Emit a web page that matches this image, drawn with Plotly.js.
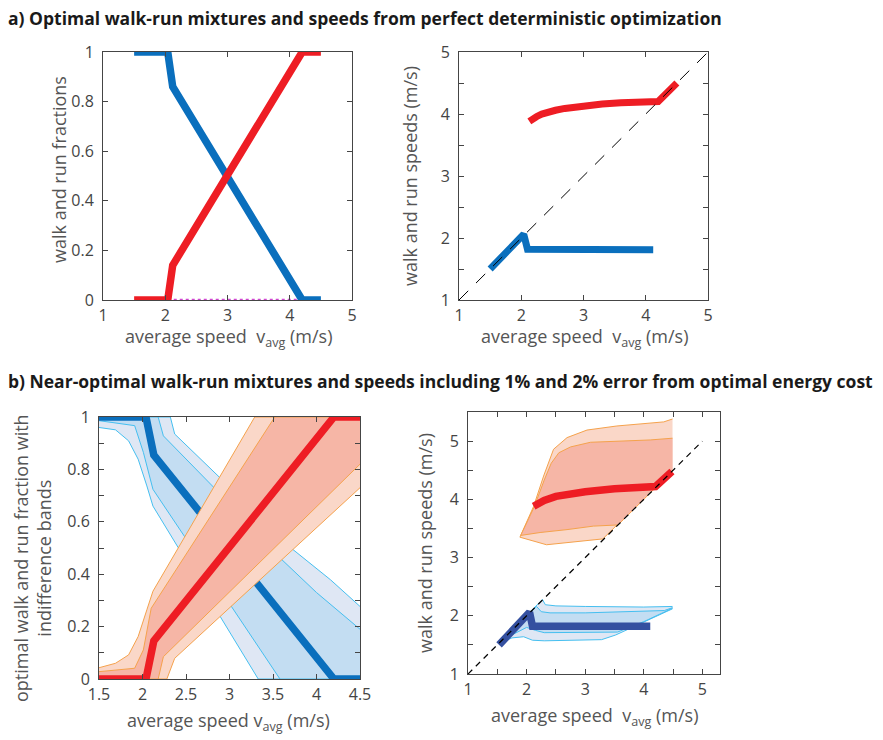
<!DOCTYPE html>
<html>
<head>
<meta charset="utf-8">
<script src="https://cdn.plot.ly/plotly-3.0.1.min.js"></script>
<style>html,body{margin:0;padding:0;background:#fff;}#chart{width:883px;height:740px;}</style>
</head>
<body>
<div id="chart"></div>
<script>
// ---------- Panel a (left): walk / run fractions ----------
const aFracV = [1.5, 2.04, 2.12, 4.2, 4.5];
const aWalkFrac = [1, 1, 0.86, 0, 0];
const aRunFrac = [0, 0, 0.14, 1, 1];
const aZeroV = [2.04, 4.2];
const aZeroY = [0, 0];
// ---------- Panel a (right): walk / run speeds ----------
const aWalkSpdV = [1.5, 2.04, 2.1, 4.12];
const aWalkSpd = [1.5, 2.06, 1.82, 1.81];
const aRunSpdV = [2.13, 2.18, 2.25, 2.33, 2.42, 2.55, 2.7, 3.0, 3.3, 3.6, 3.9, 4.2, 4.5];
const aRunSpd = [3.88, 3.92, 3.96, 4.0, 4.03, 4.06, 4.09, 4.13, 4.16, 4.18, 4.19, 4.2, 4.5];
const diagV = [1, 5];

// ---------- Panel b (left): fractions with indifference bands ----------
const bFracV = [1.5, 2.04, 2.13, 4.2, 4.5];
const bWalkFrac = [1, 1, 0.855, 0, 0];
const bRunFrac = [0, 0, 0.145, 1, 1];
// walk fraction bands (2% outer, 1% inner)
const bWalk2HiV = [1.5, 2.32, 2.37, 2.91, 3.73, 4.16, 4.5];
const bWalk2Hi  = [1, 1, 0.935, 0.762, 0.494, 0.379, 0.277];
const bWalk2LoV = [1.5, 1.69, 1.84, 1.95, 2.05, 2.12, 3.33, 4.5];
const bWalk2Lo  = [0.96, 0.951, 0.909, 0.839, 0.737, 0.66, 0, 0];
const bWalk1HiV = [1.5, 2.18, 2.24, 3.0, 3.6, 4.0, 4.5];
const bWalk1Hi  = [1, 1, 0.928, 0.67, 0.456, 0.33, 0.19];
const bWalk1LoV = [1.5, 1.91, 2.01, 2.12, 3.58, 4.5];
const bWalk1Lo  = [0.986, 0.967, 0.865, 0.724, 0, 0];
// run fraction bands
const bRun2HiV = [1.5, 1.69, 1.84, 1.95, 2.05, 2.12, 3.29, 4.5];
const bRun2Hi  = [0.043, 0.06, 0.092, 0.162, 0.264, 0.335, 1, 1];
const bRun2LoV = [1.5, 2.28, 2.37, 4.5];
const bRun2Lo  = [0, 0, 0.079, 0.73];
const bRun1HiV = [1.5, 1.91, 2.01, 2.1, 3.52, 4.5];
const bRun1Hi  = [0.028, 0.041, 0.111, 0.27, 1, 1];
const bRun1LoV = [1.5, 2.18, 2.24, 4.5];
const bRun1Lo  = [0, 0, 0.085, 0.82];

// ---------- Panel b (right): speeds with indifference bands ----------
const bWalkSpdV = [1.53, 2.05, 2.1, 4.11];
const bWalkSpd = [1.5, 2.06, 1.82, 1.82];
const bRunSpdV = [2.12, 2.3, 2.5, 2.75, 3.0, 3.5, 4.0, 4.2, 4.48];
const bRunSpd = [3.88, 3.98, 4.05, 4.1, 4.13, 4.18, 4.2, 4.22, 4.48];
// run speed bands
const bRunS2HiV = [1.886, 2.12, 2.29, 2.46, 2.69, 3.03, 3.54, 4.11, 4.34, 4.49];
const bRunS2Hi  = [3.35, 3.88, 4.4, 4.86, 5.06, 5.19, 5.26, 5.31, 5.33, 5.38];
const bRunS2LoV = [1.886, 2.34, 3.3, 4.49];
const bRunS2Lo  = [3.35, 3.22, 3.32, 4.49];
const bRunS1HiV = [1.9, 2.13, 2.3, 2.42, 2.55, 2.75, 3.09, 3.54, 4.11, 4.49];
const bRunS1Hi  = [3.38, 3.87, 4.33, 4.62, 4.8, 4.9, 4.98, 5.0, 5.02, 5.05];
const bRunS1LoV = [1.9, 2.23, 2.69, 3.14, 3.56, 4.49];
const bRunS1Lo  = [3.38, 3.43, 3.48, 3.54, 3.56, 4.49];
// walk speed bands
const bWalkS2HiV = [1.6, 2.0, 2.27, 2.32, 2.5, 3.0, 3.5, 4.0, 4.49];
const bWalkS2Hi  = [1.6, 2.0, 2.28, 2.19, 2.17, 2.16, 2.15, 2.15, 2.16];
const bWalkS2LoV = [1.6, 1.75, 1.95, 2.1, 2.3, 3.28, 3.52, 4.49];
const bWalkS2Lo  = [1.55, 1.62, 1.64, 1.58, 1.57, 1.59, 1.67, 2.12];
const bWalkS1HiV = [1.65, 2.0, 2.17, 2.25, 2.4, 3.0, 3.5, 4.0, 4.35, 4.49];
const bWalkS1Hi  = [1.65, 2.0, 2.16, 2.07, 2.05, 2.05, 2.06, 2.07, 2.09, 2.14];
const bWalkS1LoV = [1.65, 1.85, 2.0, 2.15, 2.3, 3.55, 4.0, 4.49];
const bWalkS1Lo  = [1.62, 1.72, 1.8, 1.75, 1.71, 1.72, 1.9, 2.13];

// ---------- Tick labels ----------
const aTicks = [1, 2, 3, 4, 5];
const aFracTicks = [0, 0.2, 0.4, 0.6, 0.8, 1];
const aFracLbl = ['0', '0.2', '0.4', '0.6', '0.8', '1'];
const bLeftXTicks = [1.5, 2, 2.5, 3, 3.5, 4, 4.5];
const bLeftXLbl = ['1.5', '2', '2.5', '3', '3.5', '4', '4.5'];
const bLeftYTicks = [0, 0.2, 0.4, 0.6, 0.8, 1];
const bLeftYLbl = ['0', '0.2', '0.4', '0.6', '0.8', '1'];
const bRightTicks = [1, 2, 3, 4, 5];

// ---------- Texts ----------
const titleA = 'a) Optimal walk-run mixtures and speeds from perfect deterministic optimization';
const titleB = 'b) Near-optimal walk-run mixtures and speeds including 1% and 2% error from optimal energy cost';
const xTitle = 'average speed  v<sub>avg</sub> (m/s)';
const xTitleBL = 'average speed v<sub>avg</sub> (m/s)';
const yTitleFrac = 'walk and run fractions';
const yTitleSpd = 'walk and run speeds (m/s)';
const yTitleBL = 'optimal walk and run fraction with<br>indifference bands';

// ---------- Colours ----------
const BLUE = '#0a6fbd', RED = '#ee1d24', NAVY = '#3450a0';
const B2 = '#dfe7f4', B1 = '#c3ddf2', BEDGE = '#45bff0';
const R2 = '#fad7c8', R1 = '#f6b6a6', REDGE = '#f5a24c';

function poly(hx, hy, lx, ly) {
  return { x: hx.concat(lx.slice().reverse()), y: hy.concat(ly.slice().reverse()) };
}
function band(hx, hy, lx, ly, fill, edge, xa, ya) {
  const p = poly(hx, hy, lx, ly);
  return [
    { x: p.x, y: p.y, xaxis: xa, yaxis: ya, mode: 'lines', fill: 'toself', fillcolor: fill,
      line: { width: 0 }, hoverinfo: 'skip', showlegend: false },
    { x: hx, y: hy, xaxis: xa, yaxis: ya, mode: 'lines', line: { color: edge, width: 1 }, showlegend: false, hoverinfo: 'skip' },
    { x: lx, y: ly, xaxis: xa, yaxis: ya, mode: 'lines', line: { color: edge, width: 1 }, showlegend: false, hoverinfo: 'skip' }
  ];
}
function line(x, y, color, width, xa, ya, dash) {
  return { x: x, y: y, xaxis: xa, yaxis: ya, mode: 'lines', showlegend: false,
    line: { color: color, width: width, dash: dash || 'solid', shape: 'linear' } };
}

const traces = [];
// a-left
traces.push(line(aZeroV, aZeroY, '#d048d0', 2.5, 'x', 'y', 'dot'));
traces.push(line(aFracV, aWalkFrac, BLUE, 7.5, 'x', 'y'));
traces.push(line(aFracV, aRunFrac, RED, 7.5, 'x', 'y'));
// a-right
traces.push(line(aWalkSpdV, aWalkSpd, BLUE, 7, 'x2', 'y2'));
traces.push(line(aRunSpdV, aRunSpd, RED, 7, 'x2', 'y2'));
traces.push(line(diagV, diagV, '#000', 1, 'x2', 'y2', '13px,11px'));
// b-left
traces.push(...band(bWalk2HiV, bWalk2Hi, bWalk2LoV, bWalk2Lo, B2, BEDGE, 'x3', 'y3'));
traces.push(...band(bWalk1HiV, bWalk1Hi, bWalk1LoV, bWalk1Lo, B1, BEDGE, 'x3', 'y3'));
traces.push(line(bFracV, bWalkFrac, BLUE, 7.5, 'x3', 'y3'));
traces.push(...band(bRun2HiV, bRun2Hi, bRun2LoV, bRun2Lo, R2, REDGE, 'x3', 'y3'));
traces.push(...band(bRun1HiV, bRun1Hi, bRun1LoV, bRun1Lo, R1, REDGE, 'x3', 'y3'));
traces.push(line(bFracV, bRunFrac, RED, 7.5, 'x3', 'y3'));
// b-right
traces.push(...band(bRunS2HiV, bRunS2Hi, bRunS2LoV, bRunS2Lo, R2, REDGE, 'x4', 'y4'));
traces.push(...band(bRunS1HiV, bRunS1Hi, bRunS1LoV, bRunS1Lo, R1, REDGE, 'x4', 'y4'));
traces.push(line(bRunSpdV, bRunSpd, RED, 7.5, 'x4', 'y4'));
traces.push(...band(bWalkS2HiV, bWalkS2Hi, bWalkS2LoV, bWalkS2Lo, B2, BEDGE, 'x4', 'y4'));
traces.push(...band(bWalkS1HiV, bWalkS1Hi, bWalkS1LoV, bWalkS1Lo, B1, BEDGE, 'x4', 'y4'));
traces.push(line(bWalkSpdV, bWalkSpd, NAVY, 7.5, 'x4', 'y4'));
traces.push(line(diagV, diagV, '#000', 1.2, 'x4', 'y4', '6px,5px'));

const W = 883, H = 740;
const FONT = 'Open Sans';
const TC = '#454545';
function ax(domainPx, isX, range, tickvals, ticktext, minorStep) {
  const dom = isX ? [domainPx[0] / W, domainPx[1] / W] : [1 - domainPx[1] / H, 1 - domainPx[0] / H];
  const a = {
    domain: dom, range: range, showline: true, linecolor: TC, linewidth: 1, mirror: 'ticks',
    ticks: 'inside', ticklen: 5, tickwidth: 1, tickcolor: TC, showgrid: false, zeroline: false,
    tickmode: 'array', tickvals: tickvals, ticktext: ticktext, ticklabelstandoff: isX ? 1 : 5,
    tickfont: { family: FONT, size: 16, color: '#444' }, automargin: false, fixedrange: true
  };
  if (minorStep) {
    a.minor = { dtick: minorStep, tick0: range[0], ticks: 'inside', ticklen: 5, tickwidth: 1, tickcolor: TC, showgrid: false };
  }
  return a;
}
function txt(text, cx, cy, opts) {
  return Object.assign({ text: text, xref: 'paper', yref: 'paper', x: cx / W, y: 1 - cy / H,
    xanchor: 'center', yanchor: 'middle', showarrow: false,
    font: { family: FONT, size: 18, color: '#555' } }, opts || {});
}

const layout = {
  width: W, height: H, margin: { l: 0, r: 0, t: 0, b: 0 },
  paper_bgcolor: '#fff', plot_bgcolor: '#fff', showlegend: false,
  xaxis: ax([103, 352], true, [1, 5], aTicks, aTicks.map(String), 0),
  yaxis: ax([52, 300], false, [0, 1], aFracTicks, aFracLbl, 0),
  xaxis2: ax([459, 708], true, [1, 5], aTicks, aTicks.map(String), 0),
  yaxis2: ax([52, 300], false, [1, 5], aTicks, aTicks.map(String), 0.5),
  xaxis3: ax([99, 360], true, [1.5, 4.5], bLeftXTicks, bLeftXLbl, 0),
  yaxis3: ax([417, 679], false, [0, 1], bLeftYTicks, bLeftYLbl, 0.1),
  xaxis4: ax([468, 720], true, [1, 5.3], bRightTicks, bRightTicks.map(String), 0.5),
  yaxis4: ax([412, 674], false, [1, 5.5], bRightTicks, bRightTicks.map(String), 0.5),
  annotations: [
    txt('<b>' + titleA + '</b>', 6, 18, { xanchor: 'left', font: { family: FONT, size: 17.5, color: '#1a1a1a' } }),
    txt('<b>' + titleB + '</b>', 6, 381, { xanchor: 'left', font: { family: FONT, size: 17.5, color: '#1a1a1a' } }),
    txt(xTitle, 228, 337),
    txt(xTitle, 584, 337),
    txt(xTitleBL, 229, 721),
    txt(xTitle, 594, 716),
    txt(yTitleFrac, 59, 170, { textangle: -90 }),
    txt(yTitleSpd, 410, 176, { textangle: -90 }),
    txt(yTitleBL, 32, 558, { textangle: -90 }),
    txt(yTitleSpd, 425, 543, { textangle: -90 })
  ]
};
['xaxis', 'xaxis2', 'xaxis3', 'xaxis4'].forEach((k, i) => { layout[k].anchor = 'y' + (i ? i + 1 : ''); });
['yaxis', 'yaxis2', 'yaxis3', 'yaxis4'].forEach((k, i) => { layout[k].anchor = 'x' + (i ? i + 1 : ''); });

Plotly.newPlot('chart', traces, layout, { displayModeBar: false, staticPlot: true });
</script>
</body>
</html>
